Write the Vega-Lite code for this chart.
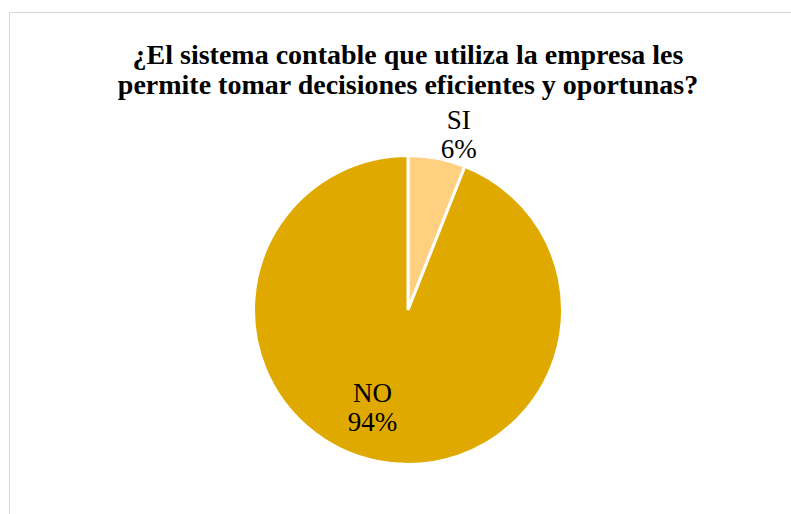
{
  "$schema": "https://vega.github.io/schema/vega-lite/v6.json",
  "width": 798,
  "height": 596,
  "autosize": {"type": "none"},
  "padding": {"left": 9, "top": 12, "right": -16, "bottom": -94},
  "background": "white",
  "view": {"stroke": "#d9d9d9", "strokeWidth": 1, "fill": "white"},
  "title": {
    "text": ["¿El sistema contable que utiliza la empresa les", "permite tomar decisiones eficientes y oportunas?"],
    "font": "Liberation Serif",
    "fontSize": 28,
    "fontWeight": "bold",
    "color": "black",
    "anchor": "middle",
    "frame": "group",
    "offset": -88,
    "lineHeight": 30
  },
  "data": {
    "values": [
      {"respuesta": "SI", "porcentaje": 6, "etiqueta": "SI\n6%"},
      {"respuesta": "NO", "porcentaje": 94, "etiqueta": "NO\n94%"}
    ]
  },
  "encoding": {
    "theta": {"field": "porcentaje", "type": "quantitative", "stack": true},
    "order": {"field": "respuesta", "sort": "descending"}
  },
  "layer": [
    {
      "mark": {"type": "arc", "outerRadius": 154.5, "stroke": "white", "strokeWidth": 3},
      "encoding": {
        "color": {"field": "respuesta", "type": "nominal", "scale": {"domain": ["SI", "NO"], "range": ["#FFD080", "#E0A900"]}, "legend": null}
      }
    },
    {
      "mark": {"type": "text", "radius": 180, "font": "Liberation Serif", "fontSize": 27, "lineBreak": "\n", "lineHeight": 29, "fill": "black", "dx": 17, "dy": -12},
      "encoding": {
        "detail": {"field": "respuesta"},
        "text": {"field": "etiqueta"},
        "opacity": {"condition": {"test": "datum.respuesta === 'SI'", "value": 1}, "value": 0}
      }
    },
    {
      "mark": {"type": "text", "radius": 104, "font": "Liberation Serif", "fontSize": 27, "lineBreak": "\n", "lineHeight": 29, "fill": "black", "dx": -16, "dy": -18},
      "encoding": {
        "detail": {"field": "respuesta"},
        "text": {"field": "etiqueta"},
        "opacity": {"condition": {"test": "datum.respuesta === 'NO'", "value": 1}, "value": 0}
      }
    }
  ]
}
